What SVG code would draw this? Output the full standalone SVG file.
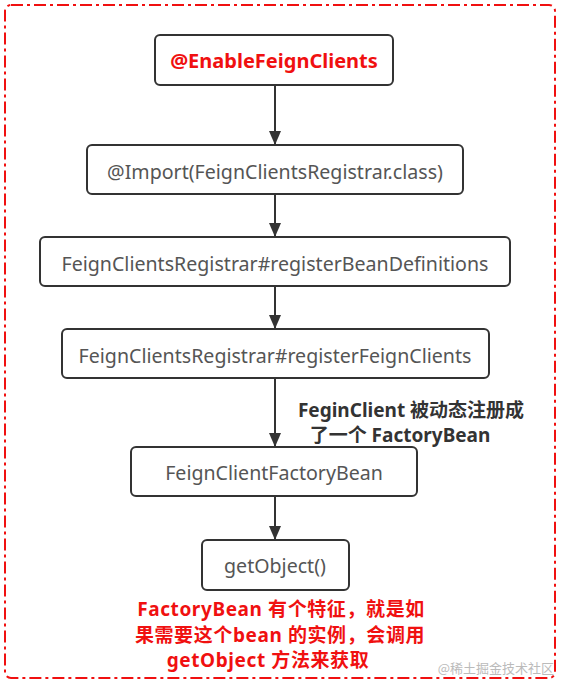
<svg xmlns="http://www.w3.org/2000/svg" width="561" height="684" viewBox="0 0 561 684">
<defs>
<style>
.box{fill:#fff;stroke:#333;stroke-width:2}
.t{font-family:"Noto Sans","Noto Sans CJK SC",sans-serif;font-size:19.6px;fill:#555;text-anchor:middle;dominant-baseline:central}
.red{font-family:"Noto Sans","Noto Sans CJK SC",sans-serif;font-size:20px;fill:#f01010;font-weight:bold;text-anchor:middle;dominant-baseline:central}
.note{font-family:"Noto Sans","Noto Sans CJK SC",sans-serif;font-size:19px;letter-spacing:0.6px;fill:#f01010;font-weight:bold;text-anchor:middle;dominant-baseline:central}
.lbl{font-family:"Noto Sans","Noto Sans CJK SC",sans-serif;font-size:19px;fill:#333;font-weight:bold;text-anchor:middle;dominant-baseline:central}
.edge{stroke:#333;stroke-width:2;fill:none}
</style>
<marker id="ah" markerWidth="14" markerHeight="12" refX="13" refY="6" orient="auto" markerUnits="userSpaceOnUse" viewBox="0 0 14 12">
<path d="M0,0 L14,6 L0,12 z" fill="#333"/>
</marker>
</defs>
<rect width="561" height="684" fill="#fff"/>
<rect x="5" y="5" width="550" height="673" rx="6" fill="none" stroke="#f01010" stroke-width="2" stroke-dasharray="12,4,3,4"/>
<g id="connectors">
<line class="edge" x1="275" y1="86" x2="275" y2="144" marker-end="url(#ah)"/>
<line class="edge" x1="275" y1="195" x2="275" y2="236" marker-end="url(#ah)"/>
<line class="edge" x1="275" y1="287" x2="275" y2="328" marker-end="url(#ah)"/>
<line class="edge" x1="275" y1="379" x2="275" y2="446" marker-end="url(#ah)"/>
<line class="edge" x1="275" y1="497" x2="275" y2="539" marker-end="url(#ah)"/>
<text class="lbl" x="411" y="410">FeginClient 被动态注册成</text>
<text class="lbl" x="400" y="435">了一个 FactoryBean</text>
</g>
<g id="n1"><rect class="box" x="155" y="35" width="238" height="50" rx="5"/><text class="red" x="274" y="60">@EnableFeignClients</text></g>
<g id="n2"><rect class="box" x="87" y="145" width="376" height="49" rx="5"/><text class="t" x="275" y="171">@Import(FeignClientsRegistrar.class)</text></g>
<g id="n3"><rect class="box" x="40" y="237" width="470" height="49" rx="5"/><text class="t" x="275" y="263">FeignClientsRegistrar#registerBeanDefinitions</text></g>
<g id="n4"><rect class="box" x="62" y="329" width="427" height="49" rx="5"/><text class="t" x="275" y="355">FeignClientsRegistrar#registerFeignClients</text></g>
<g id="n5"><rect class="box" x="131" y="447" width="286" height="49" rx="5"/><text class="t" x="274" y="472">FeignClientFactoryBean</text></g>
<g id="n6"><rect class="box" x="202" y="540" width="147" height="50" rx="5"/><text class="t" x="275" y="565">getObject()</text></g>
<g id="note">
<text class="note" x="281" y="609">FactoryBean 有个特征，就是如</text>
<text class="note" x="280" y="635">果需要这个bean 的实例，会调用</text>
<text class="note" x="268" y="660">getObject 方法来获取</text>
</g>
<text x="554" y="673" font-family="Noto Sans CJK SC,sans-serif" font-size="13" fill="#bbb" text-anchor="end">@稀土掘金技术社区</text>
</svg>
